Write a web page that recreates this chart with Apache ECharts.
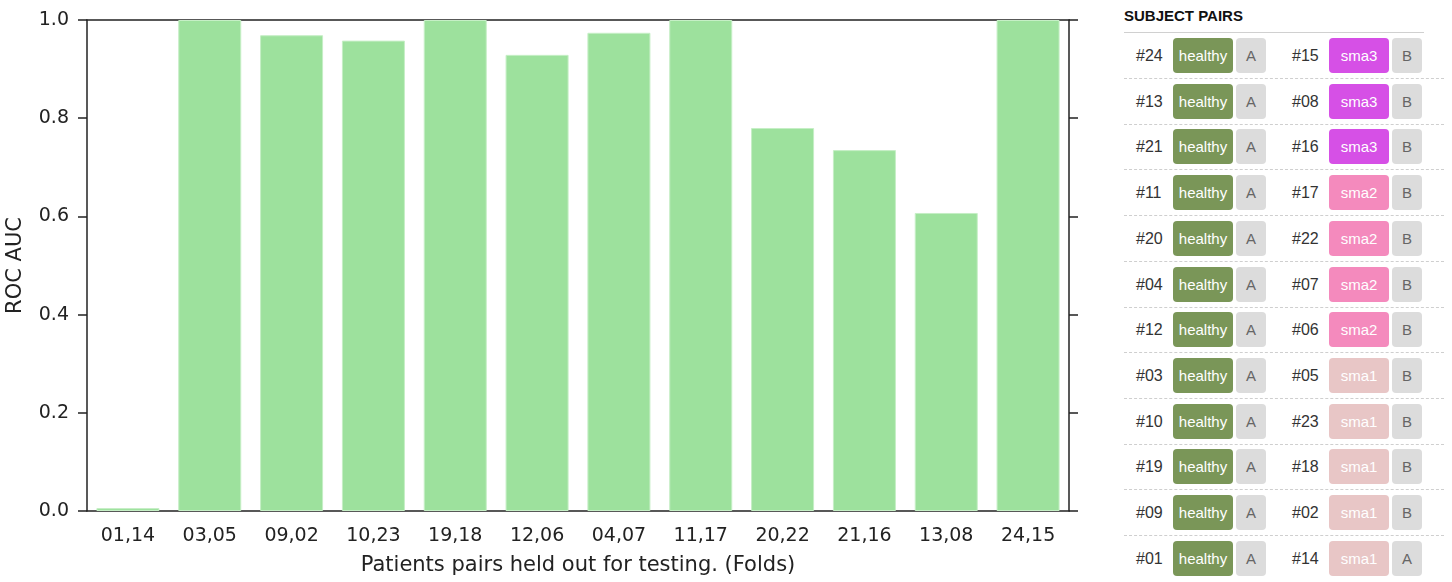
<!DOCTYPE html>
<html>
<head>
<meta charset="utf-8">
<title>ROC AUC per fold</title>
<script src="https://cdn.jsdelivr.net/npm/echarts@6/dist/echarts.min.js"></script>
<style>
    html, body {margin: 0; padding: 0; background: #fff;}
    #wrap {position: relative; width: 1452px; height: 582px; overflow: hidden;}
    #chart {position: absolute; left: 0; top: 0; width: 1110px; height: 582px;}
    #pairs {position: absolute; left: 1124px; top: 0; width: 320px; height: 582px;
        font-family: "Liberation Sans", Arial, sans-serif;}
    #pairs .title {position: absolute; left: 0; top: 7px; font-size: 15px; font-weight: bold; color: #111;}
    #pairs .rule {position: absolute; left: 0; top: 32px; width: 300px; border-top: 1px solid #d0d0d0;}
    #pairs .row {position: absolute; left: 0; width: 320px; height: 36px;}
    #pairs .sep {position: absolute; left: 0; width: 320px; border-top: 1px dashed #cfcfcf;}
    #pairs .id {position: absolute; top: 0; line-height: 36px; font-size: 16px; color: #333;}
    #pairs .tag {position: absolute; top: 0; height: 35px; line-height: 35px; width: 60px; border-radius: 4px;
        text-align: center; font-size: 15px; color: #fff;}
    #pairs .side {position: absolute; top: 0; height: 35px; line-height: 35px; width: 30px; border-radius: 4px;
        text-align: center; font-size: 15px; color: #666; background: #dcdcdc;}
</style>
</head>
<body>
<div id="wrap">
    <div id="chart"></div>
    <div id="pairs"></div>
</div>
<script>
    // folds held out for testing
    var folds = ["01,14", "03,05", "09,02", "10,23", "19,18", "12,06", "04,07", "11,17", "20,22", "21,16", "13,08", "24,15"];
    var rocAuc = [0.006, 1.0, 0.969, 0.958, 1.0, 0.929, 0.974, 1.0, 0.780, 0.735, 0.607, 1.0];

    // subject pairs panel
    var leftIds = ["#24", "#13", "#21", "#11", "#20", "#04", "#12", "#03", "#10", "#19", "#09", "#01"];
    var leftGroup = ["healthy", "healthy", "healthy", "healthy", "healthy", "healthy", "healthy", "healthy", "healthy", "healthy", "healthy", "healthy"];
    var leftSide = ["A", "A", "A", "A", "A", "A", "A", "A", "A", "A", "A", "A"];
    var rightIds = ["#15", "#08", "#16", "#17", "#22", "#07", "#06", "#05", "#23", "#18", "#02", "#14"];
    var rightGroup = ["sma3", "sma3", "sma3", "sma2", "sma2", "sma2", "sma2", "sma1", "sma1", "sma1", "sma1", "sma1"];
    var rightSide = ["B", "B", "B", "B", "B", "B", "B", "B", "B", "B", "B", "A"];

    var groupColor = {
        healthy: "#7a9658",
        sma3: "#d650e6",
        sma2: "#f48abd",
        sma1: "#e8c6c6"
    };

    var axisColor = "#222";
    var font = "DejaVu Sans";
    var tickStyle = {color: axisColor, width: 1.5};

    var chart = echarts.init(document.getElementById("chart"));
    chart.setOption({
        animation: false,
        grid: {
            left: 87,
            right: 41,
            top: 20,
            bottom: 71,
            outerBoundsMode: "none"
        },
        xAxis: [
            {
                type: "category",
                data: folds,
                position: "bottom",
                name: "Patients pairs held out for testing. (Folds)",
                nameLocation: "middle",
                nameGap: 44,
                nameTextStyle: {fontFamily: font, fontSize: 21, color: "#222"},
                axisLine: {onZero: false, lineStyle: tickStyle},
                axisTick: {alignWithLabel: true, length: 9, lineStyle: tickStyle},
                axisLabel: {fontFamily: font, fontSize: 19, color: "#222", margin: 16},
                splitLine: {show: false}
            },
            {
                type: "category",
                data: folds,
                position: "top",
                axisLine: {onZero: false, lineStyle: tickStyle},
                axisTick: {alignWithLabel: true, length: 9, lineStyle: tickStyle},
                axisLabel: {show: false},
                splitLine: {show: false}
            }
        ],
        yAxis: [
            {
                type: "value",
                min: 0,
                max: 1,
                interval: 0.2,
                position: "left",
                name: "ROC AUC",
                nameLocation: "middle",
                nameGap: 61,
                nameTextStyle: {fontFamily: font, fontSize: 21, color: "#222"},
                axisLine: {show: true, onZero: false, lineStyle: tickStyle},
                axisTick: {show: true, length: 9, lineStyle: tickStyle},
                axisLabel: {
                    fontFamily: font, fontSize: 19, color: "#222", margin: 18,
                    formatter: function (v) { return v.toFixed(1); }
                },
                splitLine: {show: false}
            },
            {
                type: "value",
                min: 0,
                max: 1,
                interval: 0.2,
                position: "right",
                axisLine: {show: true, onZero: false, lineStyle: tickStyle},
                axisTick: {show: true, length: 9, lineStyle: tickStyle},
                axisLabel: {show: false},
                splitLine: {show: false}
            }
        ],
        series: [
            {
                name: "ROC AUC",
                type: "bar",
                xAxisIndex: 0,
                yAxisIndex: 0,
                barWidth: "77%",
                itemStyle: {color: "#9de19d", borderColor: "#c6efc6", borderWidth: 1},
                data: rocAuc
            }
        ]
    });

    // build the subject pairs table
    var pairs = document.getElementById("pairs");
    var html = '<div class="title">SUBJECT PAIRS</div><div class="rule"></div>';
    var rowStep = 45.7;
    for (var i = 0; i < leftIds.length; i++) {
        var rowTop = 38 + i * rowStep;
        html += '<div class="row" style="top:' + rowTop + 'px">' +
            '<div class="id" style="left:12px">' + leftIds[i] + '</div>' +
            '<div class="tag" style="left:49px;background:' + groupColor[leftGroup[i]] + '">' + leftGroup[i] + '</div>' +
            '<div class="side" style="left:112px">' + leftSide[i] + '</div>' +
            '<div class="id" style="left:168px">' + rightIds[i] + '</div>' +
            '<div class="tag" style="left:205px;background:' + groupColor[rightGroup[i]] + '">' + rightGroup[i] + '</div>' +
            '<div class="side" style="left:268px">' + rightSide[i] + '</div>' +
            '</div>';
        if (i < leftIds.length - 1) {
            html += '<div class="sep" style="top:' + (78 + i * rowStep) + 'px"></div>';
        }
    }
    pairs.innerHTML = html;
</script>
</body>
</html>
